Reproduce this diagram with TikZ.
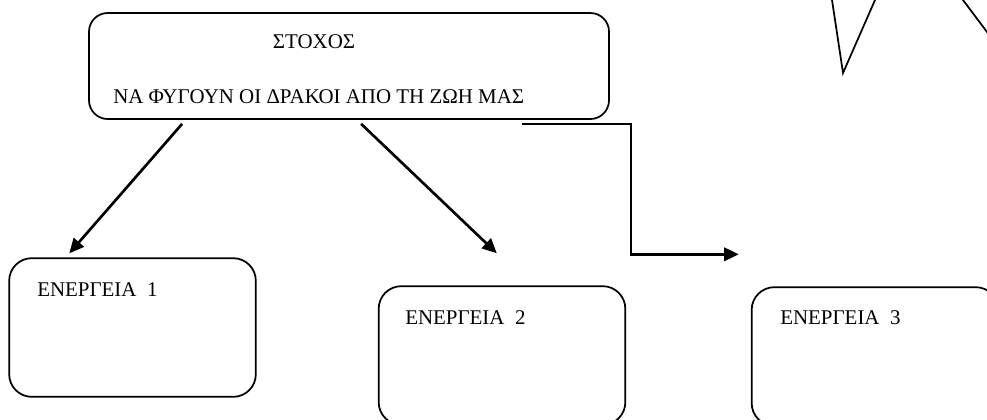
\documentclass[tikz,border=0pt]{standalone}
\usepackage{fontspec}
\setmainfont{Liberation Serif}
\usetikzlibrary{calc,arrows.meta}

\begin{document}
\begin{tikzpicture}[
    x=0.75pt, y=-0.75pt,
    every node/.style={font=\fontsize{15.7}{18}\selectfont},
    goalbox/.style={draw, line width=1.3pt, rounded corners=14pt,
        minimum width=390pt, minimum height=79.5pt, inner sep=0pt},
    actbox/.style={draw, line width=1.3pt, rounded corners=17pt,
        minimum width=185pt, minimum height=104pt, inner sep=0pt},
    txt/.style={inner sep=0pt, anchor=base west},
    arr/.style={line width=2pt, -{Triangle[length=11pt,width=10pt]}}
]

\useasboundingbox (0,0) rectangle (987,419);
\clip (0,0) rectangle (987,419);

%======================
% Boxes
%======================

\node[goalbox] (goal) at (349,66) {};
\node[actbox]  (act1) at (132.5,327.5) {};
\node[actbox]  (act2) at (502,355.5) {};
\node[actbox]  (act3) at (875,356.5) {};

%======================
% Texts
%======================

\node[inner sep=0pt, anchor=base] (goalhead) at (314,48) {ΣΤΟΧΟΣ};
\node[txt] (goaltext) at (113,103) {ΝΑ ΦΥΓΟΥΝ ΟΙ ΔΡΑΚΟΙ ΑΠΟ ΤΗ ΖΩΗ ΜΑΣ};

\node[txt] (act1text) at (37,296)  {ΕΝΕΡΓΕΙΑ\ \ 1};
\node[txt] (act2text) at (405,324) {ΕΝΕΡΓΕΙΑ\ \ 2};
\node[txt] (act3text) at (780,324) {ΕΝΕΡΓΕΙΑ\ \ 3};

%======================
% Arrows
%======================

\draw[arr] ($(goal.south west)+(94,4)$) -- ($(act1.north west)+(61,-4)$);
\draw[arr] ($(goal.south west)+(273,4)$) -- ($(act2.north west)+(119,-32)$);
\draw[arr] ($(goal.south west)+(434,4)$) -- ++(109,0)
    |- ($(act3.north west)+(-12,-32)$);

%======================
% Shape at top right
%======================

\draw[line width=1.3pt] (830.5,-10) -- (843,73) -- (879.4,-10);
\draw[line width=1.3pt] (955.5,-10) -- (995,42.7);

\end{tikzpicture}
\end{document}
